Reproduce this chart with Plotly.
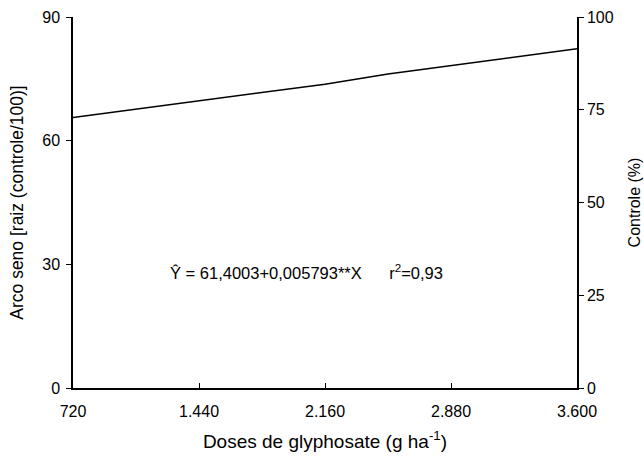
import plotly.graph_objects as go

doses = [720, 1440, 2160, 2520, 2880, 3600]
arco_seno = [65.6, 69.7, 73.7, 76.2, 78.2, 82.3]
x_ticks = [720, 1440, 2160, 2880, 3600]
x_tick_labels = ["720", "1.440", "2.160", "2.880", "3.600"]
y_ticks = [0, 30, 60, 90]
y2_ticks = [0, 25, 50, 75, 100]
equation = "Ŷ = 61,4003+0,005793**X      r<sup>2</sup>=0,93"

fig = go.Figure()
fig.add_trace(go.Scatter(x=doses, y=arco_seno, mode="lines",
                         line=dict(color="black", width=1.5), showlegend=False, hoverinfo="skip"))
fig.add_trace(go.Scatter(x=[doses[0]], y=[0], yaxis="y2", mode="markers",
                         marker=dict(opacity=0), showlegend=False, hoverinfo="skip"))

fam = "Liberation Sans, Arial, sans-serif"
fs = 16
font = dict(family=fam, size=fs, color="black")

fig.update_layout(
    width=644, height=466,
    margin=dict(l=73, r=67, t=17, b=78),
    plot_bgcolor="white", paper_bgcolor="white",
    font=font,
    xaxis=dict(range=[720, 3600], tickvals=x_ticks, ticktext=x_tick_labels,
               showline=True, linecolor="black", linewidth=1.5, ticks="inside",
               ticklen=5, tickcolor="black", showgrid=False, zeroline=False,
               automargin=False, tickfont=dict(family=fam, size=fs),
               title=dict(text="Doses de glyphosate (g ha<sup>-1</sup>)", standoff=16,
                          font=dict(family=fam, size=19)),
               ticklabelstandoff=8),
    yaxis=dict(range=[0, 90], tickvals=y_ticks, showline=True, linecolor="black",
               linewidth=1.5, ticks="outside", ticklen=5, tickcolor="black",
               showgrid=False, zeroline=False, automargin=False,
               tickfont=dict(family=fam, size=fs), ticklabelstandoff=3,
               title=dict(text="Arco seno [raiz (controle/100)]", standoff=14,
                          font=dict(family=fam, size=17.5))),
    yaxis2=dict(range=[0, 100], tickvals=y2_ticks, overlaying="y", side="right",
                showline=True, linecolor="black", linewidth=1.5, ticks="outside",
                ticklen=5, tickcolor="black", showgrid=False, zeroline=False,
                automargin=False, tickfont=dict(family=fam, size=fs),
                title=dict(text="Controle (%)", standoff=16,
                           font=dict(family=fam, size=fs))),
    annotations=[dict(x=1263, y=28.2, xref="x", yref="y", text=equation,
                      showarrow=False, xanchor="left", yanchor="middle",
                      font=dict(family=fam, size=16.5))],
)

fig.write_html("out.html", config={"displayModeBar": False},
               post_script="document.body.style.margin='0';document.body.style.padding='0';")
